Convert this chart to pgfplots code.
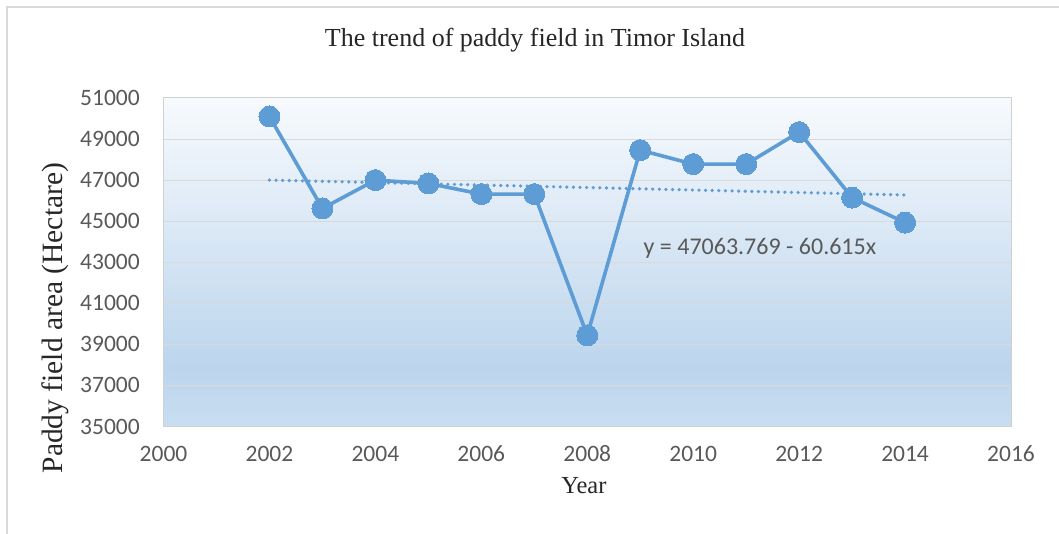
\documentclass[border=0pt]{standalone}
\usepackage{fontspec}
\setmainfont{Liberation Serif}
\newfontfamily\carlito{Carlito}
\usepackage{pgfplots}
\pgfplotsset{compat=1.18}
\definecolor{lineblue}{RGB}{93,156,213}
\definecolor{gridgray}{RGB}{217,217,217}
\definecolor{framegray}{RGB}{208,208,208}
\definecolor{ticktext}{RGB}{89,89,89}
\definecolor{bgtop}{RGB}{247,250,253}
\definecolor{bgmid}{RGB}{188,213,237}
\definecolor{bgbot}{RGB}{200,221,240}
\pgfdeclareverticalshading{bgshade}{100bp}{color(0bp)=(bgbot); color(25bp)=(bgbot); color(34bp)=(bgmid); color(75bp)=(bgtop); color(100bp)=(bgtop)}
\begin{document}
\begin{tikzpicture}
\useasboundingbox (0pt,0pt) rectangle (1059pt,-534pt);
\draw[color=gridgray, line width=1.5pt] (7pt,-534pt) -- (7pt,-7pt) -- (1059pt,-7pt);
\begin{axis}[
  at={(163.5pt,-426.5pt)}, anchor=south west,
  scale only axis, width=847.5pt, height=328.5pt,
  xmin=2000, xmax=2016, ymin=35000, ymax=51000,
  xtick={2000,2002,...,2016}, ytick={35000,37000,...,51000},
  scaled ticks=false,
  /pgf/number format/1000 sep={},
  /pgf/number format/assume math mode=true,
  major tick length=0pt,
  ymajorgrids, major grid style={color=gridgray, line width=1pt},
  axis line style={color=framegray, line width=1pt},
  axis background/.style={shade, shading=bgshade},
  ticklabel style={font=\carlito\fontsize{23.5}{26}\selectfont, text=ticktext, inner sep=0pt},
  yticklabel style={anchor=east, xshift=-23.5pt},
  xticklabel style={anchor=center, yshift=-27.5pt},
  title={The trend of paddy field in Timor Island},
  title style={at={(0.4383,1.158)}, anchor=center, font=\fontsize{26}{30}\selectfont, text=black!85},
  xlabel={Year},
  xlabel style={at={(0.496,-0.181)}, anchor=center, font=\fontsize{24.5}{28}\selectfont, text=black!85},
  ylabel={Paddy field area (Hectare)},
  ylabel style={at={(-0.128,0.330)}, anchor=center, font=\fontsize{29.5}{34}\selectfont, text=black!85},
  clip=false,
]
\addplot[color=lineblue, line width=3.6pt, mark=*, mark size=10.5pt, mark options={fill=lineblue, draw=lineblue, line width=0pt}]
  coordinates {
  (2002,50100) (2003,45620) (2004,47000) (2005,46840) (2006,46320) (2007,46320)
  (2008,39440) (2009,48460) (2010,47780) (2011,47780) (2012,49340) (2013,46150) (2014,44930)
  };
\addplot[color=lineblue, line width=3.6pt, line cap=round, dash pattern=on 0.01pt off 6.6pt]
  coordinates {(2002,47003.15) (2014,46275.77)};
\node[font=\carlito\fontsize{24}{28}\selectfont, text=ticktext, anchor=center] at (axis cs:2011.26,43694) {y = 47063.769 - 60.615x};
\end{axis}
\end{tikzpicture}
\end{document}
